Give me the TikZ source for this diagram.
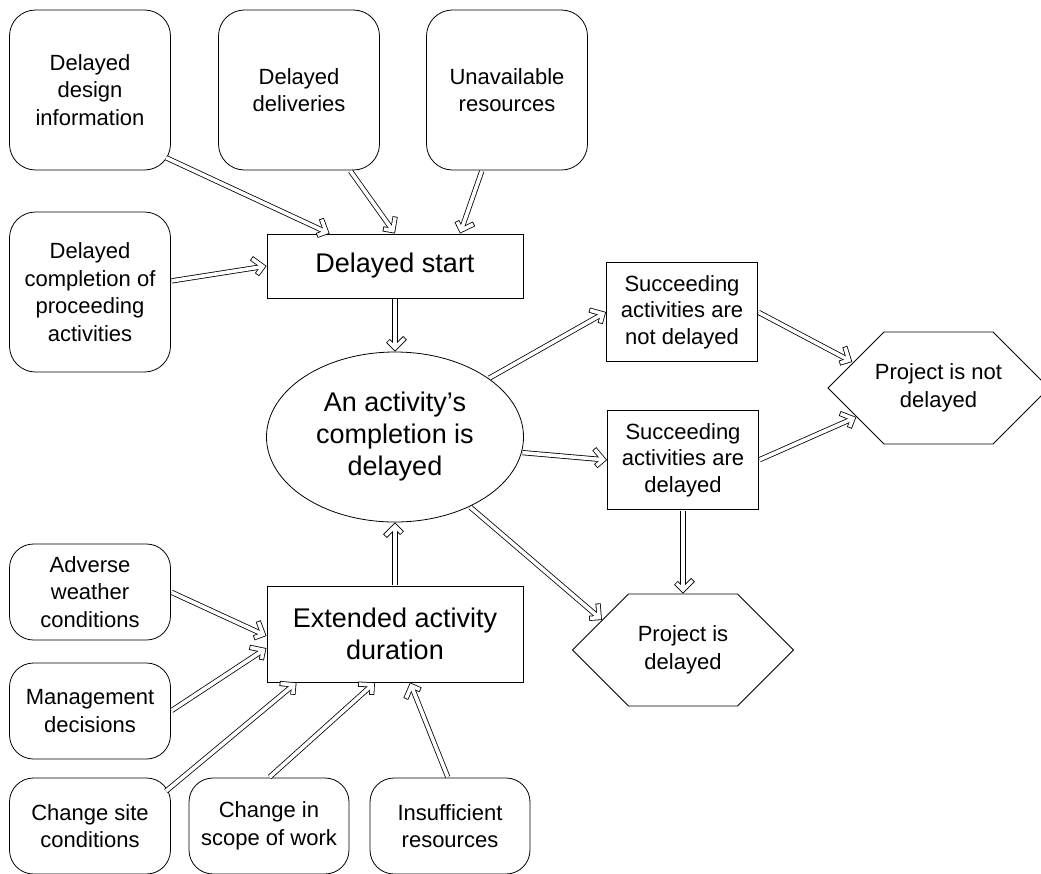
\documentclass[tikz,border=0pt]{standalone}
\usepackage{fontspec}
\setmainfont{Liberation Sans}
\usetikzlibrary{shapes.geometric, shapes.symbols, decorations.markings}

\begin{document}
\begin{tikzpicture}[x=1pt, y=-1pt, line width=0.8pt,
    cause node/.style={draw, rounded corners=26pt, align=center, inner sep=0pt, minimum width=161pt, minimum height=160pt, font=\fontsize{22}{27.5}\selectfont},
    small cause/.style={cause node, minimum height=96pt, rounded corners=24pt},
    main node/.style={draw, rectangle, align=center, inner sep=0pt, minimum width=256pt, font=\fontsize{27}{32}\selectfont},
    result node/.style={draw, rectangle, align=center, inner sep=0pt, minimum width=151pt, minimum height=99pt, font=\fontsize{22}{26.5}\selectfont},
    end node/.style={draw, shape=signal, signal to=east and west, signal pointer angle=90, align=center, inner ysep=0pt, inner xsep=-10pt, minimum width=221pt, minimum height=112pt, font=\fontsize{22}{27.5}\selectfont},
    % hollow arrow: black pass first, white pass on top
    flow/.style={
        preaction={draw, line width=5.2pt, shorten >=5pt},
        preaction={decorate, decoration={markings, mark=at position 1 with {
            \draw[line width=5.2pt, line join=miter] (-14.3pt,10.6pt) -- (-3.7pt,0pt) -- (-14.3pt,-10.6pt);}}},
        draw=white, line width=3.6pt, shorten <=0.8pt, shorten >=5pt,
        postaction={decorate, decoration={markings, mark=at position 1 with {
            \draw[white, line width=3.6pt, line join=miter] (-13.7pt,10pt) -- (-3.7pt,0pt) -- (-13.7pt,-10pt);}}}}]

    \useasboundingbox (0,0) rectangle (1041,873);

    % causes of a delayed start
    \node[cause node] (1) at (90,90) {Delayed\\design\\information};
    \node[cause node] (2) at (299,90) {Delayed\\deliveries};
    \node[cause node] (3) at (507,90) {Unavailable\\resources};
    \node[cause node] (4) at (90,292) {Delayed\\completion of\\proceeding\\activities};

    \node[main node, minimum height=64pt] (5) at (395,266) {Delayed start};
    \node[draw, ellipse, align=center, inner sep=0pt, minimum width=257pt, minimum height=170pt, font=\fontsize{27}{32}\selectfont] (6) at (395,437) {An activity’s\\completion is\\delayed};

    % consequences
    \node[result node] (7) at (682,312) {Succeeding\\activities are\\not delayed};
    \node[result node] (8) at (683,460) {Succeeding\\activities are\\delayed};
    \node[end node] (9) at (938.5,388) {Project is not\\delayed};
    \node[end node] (10) at (683,650) {Project is\\delayed};

    % causes of an extended duration
    \node[main node, minimum height=96pt] (11) at (395,634) {Extended activity\\duration};
    \node[small cause] (12) at (90,592) {Adverse\\weather\\conditions};
    \node[small cause] (13) at (90,711) {Management\\decisions};
    \node[small cause] (14) at (90,826) {Change site\\conditions};
    \node[small cause, minimum width=160pt] (15) at (269,826) {Change in\\scope of work};
    \node[small cause, minimum width=160pt] (16) at (450,826) {Insufficient\\resources};

    % into the delayed start
    \draw[flow] ([xshift=-5.5pt, yshift=13pt]1.south east) -- ([xshift=63pt]5.north west);
    \draw[flow] ([xshift=51pt]2.south) -- (5.north);
    \draw[flow] ([xshift=-25pt]3.south) -- ([xshift=65pt]5.north);
    \draw[flow] ([yshift=11pt]4.east) -- (5.west);
    \draw[flow] (5.south) -- (6.north);

    % out of the delayed activity
    \draw[flow] (6.32) -- (7.west);
    \draw[flow] (6.-7) -- (8.west);
    \draw[flow] (6.-43) -- ([xshift=30pt, yshift=30pt]10.west);
    \draw[flow] (7.east) -- ([xshift=25pt, yshift=26pt]9.west);
    \draw[flow] (8.east) -- ([xshift=29pt, yshift=-29pt]9.west);
    \draw[flow] (8.south) -- (10.north);

    % into the extended duration
    \draw[flow] (11.north) -- (6.south);
    \draw[flow] (12.east) -- ([yshift=-2pt]11.west);
    \draw[flow] (13.east) -- ([yshift=-14pt]11.west);
    \draw[flow] ([xshift=-5.5pt, yshift=-14pt]14.north east) -- ([xshift=30pt]11.south west);
    \draw[flow] (15.north) -- ([xshift=-20pt]11.south);
    \draw[flow] ([xshift=-2pt]16.north) -- ([xshift=15pt]11.south);

\end{tikzpicture}
\end{document}
